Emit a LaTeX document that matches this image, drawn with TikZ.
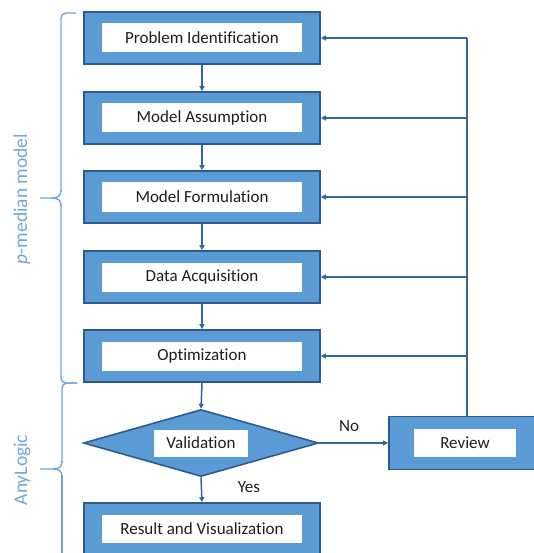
\documentclass[tikz,border=0pt]{standalone}
\usepackage{fontspec}
\setmainfont{Carlito}[Ligatures=NoCommon]
\usetikzlibrary{shapes.geometric,arrows.meta}
\definecolor{boxfill}{HTML}{5B9BD5}
\definecolor{boxline}{HTML}{2E5B8C}
\definecolor{arr}{HTML}{35659A}
\definecolor{txt}{HTML}{1E1E1E}
\definecolor{brc}{HTML}{6FA6DC}
\tikzset{
  x=1pt,y=-1pt,
  outerbox/.style={draw=boxline,fill=boxfill,line width=1.6pt,minimum width=236pt,minimum height=52pt,inner sep=0pt},
  innerbox/.style={fill=white,minimum width=200pt,minimum height=29pt,inner sep=0pt,text=txt,font=\fontsize{17}{19}\selectfont},
  conn/.style={draw=arr,line width=1.5pt,-{Triangle[length=5pt,width=5pt]}},
  plain/.style={draw=arr,line width=1.5pt},
  bracestyle/.style={draw=brc,line width=1.4pt},
  sidelabel/.style={text=brc,font=\fontsize{19.5}{21}\selectfont,rotate=90},
  lbl/.style={text=txt,font=\fontsize{17}{19}\selectfont}
}
\begin{document}
\begin{tikzpicture}
\useasboundingbox (0,0) rectangle (534,553);
\clip (0,0) rectangle (534,553);
% boxes
\node[outerbox] (pi) at (202,38) {};
\node[innerbox] (pit) at (pi) {Problem Identification};
\node[outerbox] (ma) at (202,118) {};
\node[innerbox] (mat) at (ma) {Model Assumption};
\node[outerbox] (mf) at (202,197) {};
\node[innerbox] (mft) at (mf) {Model Formulation};
\node[outerbox] (da) at (202,277) {};
\node[innerbox] (dat) at (da) {Data Acquisition};
\node[outerbox] (op) at (202,356) {};
\node[innerbox] (opt) at (op) {Optimization};
\node[diamond,draw=boxline,fill=boxfill,line width=1.6pt,minimum width=235pt,minimum height=67pt,inner sep=0pt] (va) at (201,443) {};
\node[innerbox,minimum width=94pt,minimum height=27pt] (vat) at (va) {Validation};
\node[outerbox] (rv) at (202,529) {};
\node[innerbox,minimum height=28pt] (rvt) at (rv) {Result and Visualization};
\node[outerbox,minimum width=152pt,minimum height=53pt] (re) at (465,443) {};
\node[innerbox,minimum width=102pt,minimum height=28pt] (ret) at (re) {Review};
% down arrows
\draw[conn] (pi) -- (ma);
\draw[conn] (ma) -- (mf);
\draw[conn] (mf) -- (da);
\draw[conn] (da) -- (op);
\draw[conn] (op.south) -- (va.north);
\draw[conn] (va.south) -- (rv.north);
\draw[conn] (va.east) -- (re.west);
\node[lbl] (no) at (349,426) {No};
\node[lbl] (yes) at (249,487) {Yes};
% feedback
\coordinate (top) at (467,38);
\coordinate (rtop) at (467,416);
\draw[plain] (rtop) -- (top);
\draw[conn] (top) -- (pi.east);
\draw[conn] (467,118) -- (ma.east);
\draw[conn] (467,197) -- (mf.east);
\draw[conn] (467,277) -- (da.east);
\draw[conn] (467,356) -- (op.east);
% braces
\draw[bracestyle,rounded corners=5pt] (76,13) -- (61,13) -- (61,192);
\draw[bracestyle] (61,190) .. controls (61,196) and (58,198) .. (52,198) -- (40,198);
\draw[bracestyle] (61,206) .. controls (61,200) and (58,198) .. (52,198);
\draw[bracestyle,rounded corners=5pt] (61,204) -- (61,383) -- (77,383);
\draw[bracestyle,rounded corners=5pt] (77,383) -- (62,383) -- (62,463);
\draw[bracestyle] (62,461) .. controls (62,467) and (59,469) .. (53,469) -- (40,469);
\draw[bracestyle] (62,477) .. controls (62,471) and (59,469) .. (53,469);
\draw[bracestyle] (62,475) -- (62,560);
\node[sidelabel] (pm) at (22,199) {\textit{p}-median model};
\node[sidelabel] (al) at (22,470) {AnyLogic};
\end{tikzpicture}
\end{document}
